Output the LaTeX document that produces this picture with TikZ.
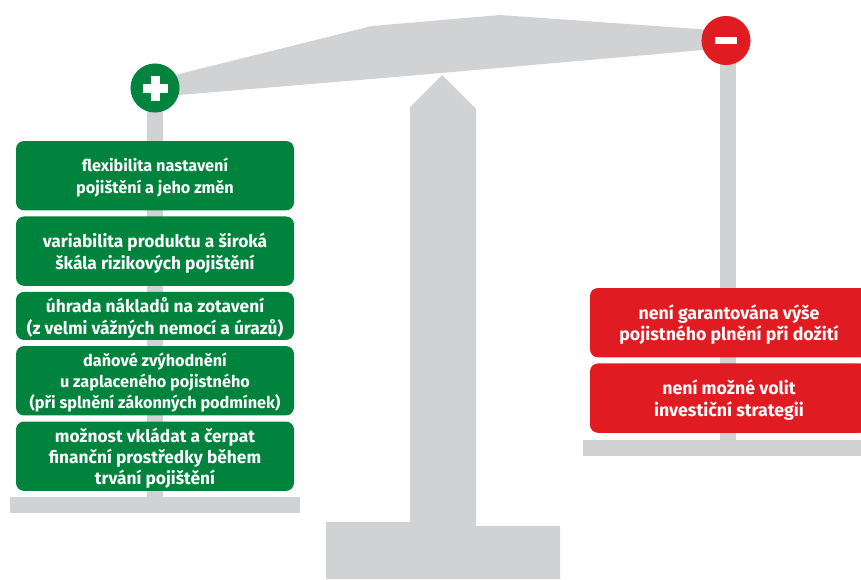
\documentclass[tikz,border=0pt]{standalone}
\usepackage{fontspec}
\setmainfont{Fira Sans}
\usetikzlibrary{positioning}
\definecolor{beamgray}{HTML}{D1D2D4}
\definecolor{plusgreen}{HTML}{00843D}
\definecolor{minusred}{HTML}{E01B22}
\tikzstyle{steel} = [fill = beamgray, draw = none]
\tikzstyle{rod} = [draw = beamgray, line width = 12pt]
\tikzstyle{pro} = [rectangle, rounded corners = 6pt, outer sep = 0pt, minimum width = 208.5pt, text = white, text centered, text depth = 0pt, align = center, fill = plusgreen, font = \fontsize{13}{16}\selectfont\bfseries]
\tikzstyle{con} = [pro, fill = minusred, font = \fontsize{13.3}{16}\selectfont\bfseries]
\tikzstyle{badge} = [circle, minimum size = 36.8pt, inner sep = 0pt]
\tikzstyle{sign} = [fill = white, draw = none]

\begin{document}
\begin{tikzpicture}[x=0.75pt, y=-0.75pt, node distance = 4.6pt]
  \useasboundingbox (0,0) rectangle (861,579);
  %stand and beam
  \fill [steel] (326,522) -- (410,522) -- (410,107) -- (442,75) -- (476,109) -- (476,526) -- (560,526) -- (560,579) -- (326,579) -- cycle;
  \fill [steel] (155,80) -- (372,26) -- (500,15) -- (726,31) -- (726,48) -- (400,76.6) -- (155,97) -- cycle;
  %pans
  \node (panplus) [steel, minimum width = 217.5pt, minimum height = 12pt, inner sep = 0pt] at (155,505) {};
  \node (panminus) [steel, minimum width = 216pt, minimum height = 12pt, inner sep = 0pt, anchor = west] at (583,448) {};
  \coordinate (topplus) at (155,88);
  \coordinate (topminus) at (728,40);
  \draw [rod] (topplus) -- (topplus |- panplus);
  \draw [rod] (topminus) -- (topminus |- panminus);
  %left side
  \node (plus) [badge, fill = plusgreen] at (topplus) {};
  \fill [sign] (142.5,84) rectangle (167.5,93);
  \fill [sign] (150.5,76) rectangle (159.5,101);
  \node (flex) [pro, minimum height = 52pt, anchor = north, font = \fontsize{12.2}{16}\selectfont\bfseries] at (155,141) {flexibilita nastavení\\pojištění a jeho změn};
  \node (vari) [pro, minimum height = 52pt, below = of flex] {variabilita produktu a široká\\škála rizikových pojištění};
  \node (uhrada) [pro, minimum height = 36pt, inner ysep = 0pt, below = of vari] {úhrada nákladů na zotavení\\(z velmi vážných nemocí a úrazů)};
  \node (dan) [pro, minimum height = 52pt, inner ysep = 0pt, below = of uhrada, font = \fontsize{12.2}{16}\selectfont\bfseries] {daňové zvýhodnění\\u zaplaceného pojistného\\(při splnění zákonných podmínek)};
  \node (vklad) [pro, minimum height = 52pt, inner ysep = 0pt, below = of dan] {možnost vkládat a čerpat\\finanční prostředky během\\trvání pojištění};
  %right side
  \node (minus) [badge, fill = minusred] at (726,40.5) {};
  \fill [sign] (715,37) rectangle (737,44);
  \node (vyse) [con, minimum height = 52pt, anchor = north west] at (590,288) {není garantována výše\\pojistného plnění při dožití};
  \node (strategie) [con, minimum height = 52pt, below = of vyse] {není možné volit\\investiční strategii};
\end{tikzpicture}
\end{document}
